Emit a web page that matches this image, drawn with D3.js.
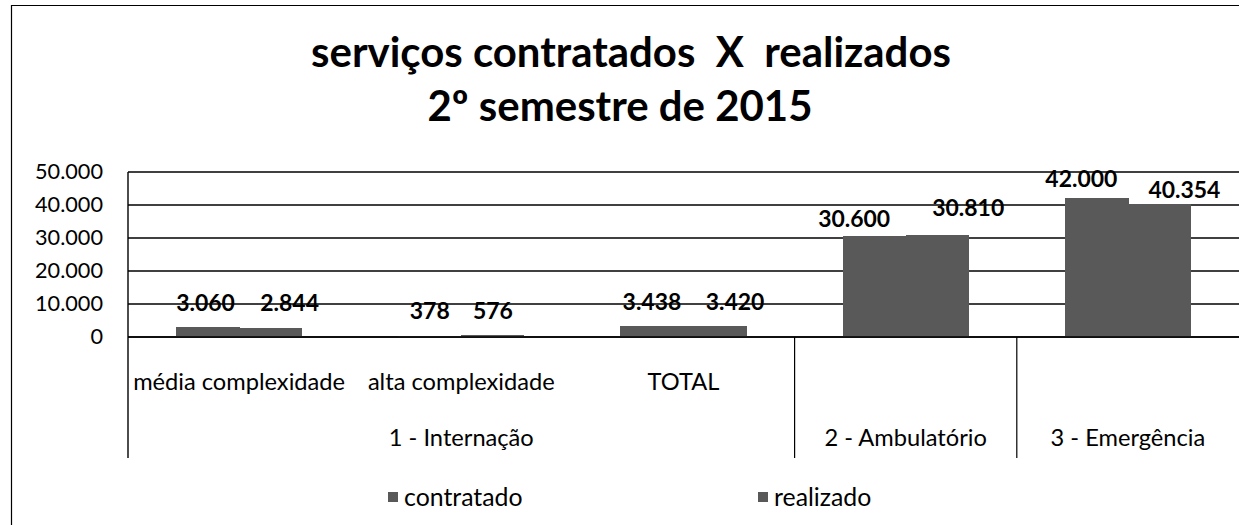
<!DOCTYPE html>
<html><head><meta charset="utf-8">
<script src="https://cdn.jsdelivr.net/npm/d3@7"></script>
<style>
html,body{margin:0;padding:0;background:#fff;}
svg{display:block;}
text{font-family:Lato,"Open Sans",sans-serif;fill:#000;}
</style></head>
<body>
<svg id="chart" width="1239" height="525"></svg>
<script>
// ---- data ----
const subCategories = ["média complexidade", "alta complexidade", "TOTAL", "", ""];
const groupLabels = ["1 - Internação", "2 - Ambulatório", "3 - Emergência"];
const groupSizes = [3, 1, 1];
const seriesNames = ["contratado", "realizado"];
const contratado = [3060, 378, 3438, 30600, 42000];
const realizado = [2844, 576, 3420, 30810, 40354];
const yTicks = [0, 10000, 20000, 30000, 40000, 50000];
const titleLines = ["serviços contratados  X  realizados", "2º semestre de 2015"];

// label nudges (px) relative to bar centre / bar top, as placed in the original
const labelDx = [[-2, 0, 0, -20, -15], [19, 0, 20, 31, 25]];
const labelDy = [[24, 25, 24, 17, 20], [25, 24, 24, 28, 14]];

// ---- layout ----
const W = 1239, H = 525;
const plot = {left: 128, right: 1239, top: 172, bottom: 337};
const catAxisBottom = 458;
const barColor = "#595959";

const svg = d3.select("#chart");
const loc = d3.formatLocale({decimal: ",", thousands: ".", grouping: [3], currency: ["", ""]});
const fmt = loc.format(",d");

function fit(sel, target, base) {
  sel.style("font-size", base + "px");
  const w = sel.node().getComputedTextLength();
  const s = base * target / w;
  sel.style("font-size", s + "px");
  return s;
}

// outer border
svg.append("path").attr("d", `M11.5,${H} L11.5,5.5 L${W},5.5`)
  .attr("fill", "none").attr("stroke", "#000").attr("stroke-width", 1.2);

// title
const t1 = svg.append("text").attr("x", 631).attr("y", 67).attr("text-anchor", "middle")
  .attr("font-weight", "bold").style("white-space", "pre").text(titleLines[0]);
const ts = fit(t1, 640, 36);
svg.append("text").attr("x", 620).attr("y", 121).attr("text-anchor", "middle")
  .attr("font-weight", "bold").style("font-size", ts + "px").text(titleLines[1]);

// scales
const idx = d3.range(contratado.length);
const x0 = d3.scaleBand().domain(idx).range([plot.left, plot.right]).padding(0);
const x1 = d3.scaleBand().domain(seriesNames)
  .range([x0.bandwidth() * 0.216, x0.bandwidth() * 0.784]).padding(0);
const y = d3.scaleLinear().domain([0, 50000]).range([plot.bottom, plot.top]);

// gridlines
svg.append("g").selectAll("line").data(yTicks).join("line")
  .attr("x1", plot.left).attr("x2", plot.right)
  .attr("y1", d => y(d)).attr("y2", d => y(d))
  .attr("stroke", "#000").attr("stroke-width", 1.4);

// y axis labels
const yAxis = svg.append("g").attr("transform", `translate(${plot.left},0)`)
  .call(d3.axisLeft(y).tickValues(yTicks).tickFormat(fmt).tickSize(0).tickPadding(25));
yAxis.select(".domain").remove();
const probe = yAxis.selectAll("text").filter(d => d === 50000);
const ys = fit(probe, 68, 21);
yAxis.selectAll("text").attr("font-family", null).style("font-size", ys + "px").attr("fill", "#000");

// vertical axis line
svg.append("line").attr("x1", plot.left).attr("x2", plot.left)
  .attr("y1", plot.top).attr("y2", catAxisBottom).attr("stroke", "#000").attr("stroke-width", 1.4);

// bars
const series = [contratado, realizado];
const gBars = svg.append("g").attr("shape-rendering", "crispEdges");
series.forEach((vals, si) => {
  gBars.append("g").selectAll("rect").data(vals).join("rect")
    .attr("x", (d, i) => x0(i) + x1(seriesNames[si]))
    .attr("width", x1.bandwidth() + (si === 0 ? 0.6 : 0))
    .attr("y", d => y(d))
    .attr("height", d => y(0) - y(d))
    .attr("fill", barColor);
});
// zero line on top
svg.append("line").attr("x1", plot.left).attr("x2", plot.right)
  .attr("y1", y(0)).attr("y2", y(0)).attr("stroke", "#000").attr("stroke-width", 1.4);

// value labels
let labelSize = null;
series.forEach((vals, si) => {
  const g = svg.append("g");
  const lab = g.selectAll("text").data(vals).join("text")
    .attr("x", (d, i) => x0(i) + x1(seriesNames[si]) + x1.bandwidth() / 2 + labelDx[si][i])
    .attr("y", (d, i) => y(d) - labelDy[si][i])
    .attr("dy", "0.36em")
    .attr("text-anchor", "middle").attr("font-weight", "bold")
    .text(d => fmt(d));
  if (labelSize === null) labelSize = fit(lab.filter((d, i) => i === 3), 72, 22);
  lab.style("font-size", labelSize + "px");
});

// category axis: sub labels
const sub = svg.append("g").selectAll("text").data(subCategories).join("text")
  .attr("x", (d, i) => x0(i) + x0.bandwidth() / 2)
  .attr("y", 381).attr("dy", "0.36em").attr("text-anchor", "middle")
  .text(d => d);
const cs = fit(sub.filter((d, i) => i === 0), 212, 20);
sub.style("font-size", cs + "px");

// group labels & separators
let start = 0;
const groupStarts = groupSizes.map(n => { const s = start; start += n; return s; });
svg.append("g").selectAll("text").data(groupLabels).join("text")
  .attr("x", (d, gi) => {
    const a = x0(groupStarts[gi]), b = x0(groupStarts[gi] + groupSizes[gi] - 1) + x0.bandwidth();
    return (a + b) / 2;
  })
  .attr("y", 437).attr("dy", "0.36em").attr("text-anchor", "middle")
  .style("font-size", cs + "px").text(d => d);
svg.append("g").selectAll("line").data(groupStarts.slice(1)).join("line")
  .attr("x1", d => x0(d)).attr("x2", d => x0(d))
  .attr("y1", y(0)).attr("y2", catAxisBottom)
  .attr("stroke", "#000").attr("stroke-width", 1.2);

// legend
const legX = [388, 758];
const leg = svg.append("g").selectAll("g").data(seriesNames).join("g")
  .attr("transform", (d, i) => `translate(${legX[i]},497)`);
leg.append("rect").attr("x", 0).attr("y", -5).attr("width", 10).attr("height", 10).attr("fill", barColor);
leg.append("text").attr("x", 16).attr("dy", "0.36em").style("font-size", (cs * 1.05) + "px").text(d => d);
</script>
</body></html>
